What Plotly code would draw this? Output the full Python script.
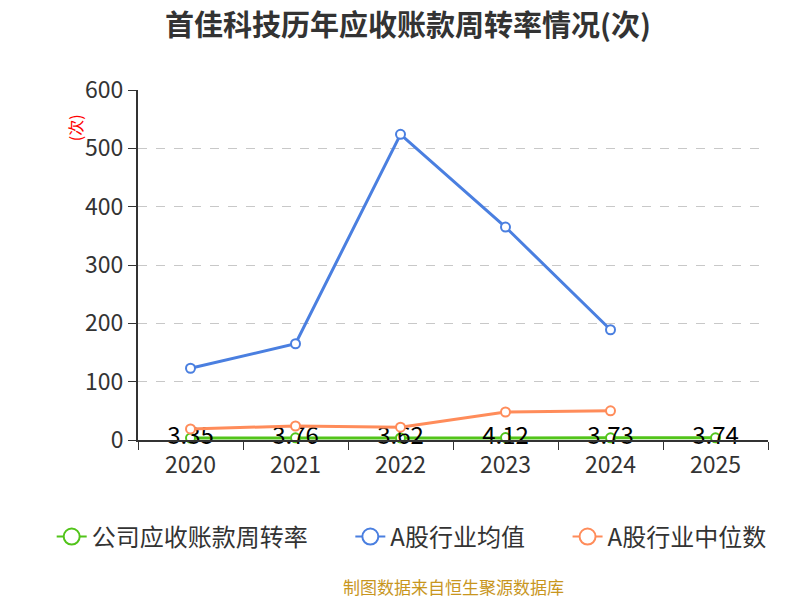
import plotly.graph_objects as go

FONT = "Noto Sans CJK SC, Noto Sans, sans-serif"

years = ["2020", "2021", "2022", "2023", "2024", "2025"]
company = [3.35, 3.76, 3.62, 4.12, 3.73, 3.74]
industry_mean = [123, 165, 524, 365, 189]
industry_median = [19, 24, 22, 48, 50]

GREEN = "#52c41a"
BLUE = "#4a7fe0"
ORANGE = "#ff8c5a"

PAD = "\u00a0" * 7  # widen the gap between legend entries

fig = go.Figure()


def add_line(name, y, color, labels=False, last=False):
    fig.add_trace(go.Scatter(
        x=years[:len(y)],
        y=y,
        name=name,
        mode="lines+markers+text" if labels else "lines+markers",
        line={"color": color, "width": 3},
        marker={"symbol": "circle", "size": 9, "color": "white",
                "line": {"color": color, "width": 2}},
        text=[f"{v:.2f}" for v in y] if labels else None,
        textposition="middle center",
        textfont={"size": 24, "color": "#000", "family": FONT},
        cliponaxis=False,
        showlegend=False,
    ))
    # legend-only entry with a bigger circle, as in the reference
    fig.add_trace(go.Scatter(
        x=[None], y=[None], name=name if last else name + PAD,
        mode="lines+markers",
        line={"color": color, "width": 2},
        marker={"symbol": "circle", "size": 16, "color": "white",
                "line": {"color": color, "width": 2}},
    ))


add_line("公司应收账款周转率", company, GREEN, labels=True)
add_line("A股行业均值", industry_mean, BLUE)
add_line("A股行业中位数", industry_median, ORANGE, last=True)

fig.update_layout(
    width=800,
    height=600,
    paper_bgcolor="white",
    plot_bgcolor="white",
    font={"family": FONT, "size": 22, "color": "#333"},
    margin={"l": 130, "r": 40, "t": 82, "b": 168, "autoexpand": False},
    title={"text": "<b>首佳科技历年应收账款周转率情况(次)</b>",
           "x": 0.5, "xanchor": "center", "y": 0.97, "yanchor": "middle",
           "font": {"size": 29, "color": "#333", "family": FONT}},
    showlegend=True,
    legend={"orientation": "h", "x": -0.137, "xanchor": "left",
            "y": -0.277, "yanchor": "middle",
            "font": {"size": 24, "color": "#333"}},
    xaxis={"type": "category", "range": [-0.5, 5.5],
           "showline": True, "linecolor": "#333", "linewidth": 2,
           "ticks": "outside", "ticklen": 8, "tickcolor": "#333",
           "tickson": "boundaries", "showgrid": False,
           "ticklabelstandoff": 3,
           "tickfont": {"size": 23, "color": "#333"}},
    yaxis={"range": [0, 600], "dtick": 100,
           "showline": True, "linecolor": "#333", "linewidth": 2,
           "ticks": "outside", "ticklen": 8, "tickcolor": "#333",
           "showgrid": True, "gridcolor": "#c8c8c8", "griddash": "dash",
           "zeroline": False,
           "tickfont": {"size": 23, "color": "#333"}},
    annotations=[
        {"text": "(次)", "xref": "paper", "yref": "paper",
         "x": -0.1, "y": 0.891, "xanchor": "center", "yanchor": "middle",
         "showarrow": False, "textangle": -90,
         "font": {"size": 16, "color": "red"}},
        {"text": "制图数据来自恒生聚源数据库", "xref": "paper", "yref": "paper",
         "x": 0.5, "y": -0.418, "xanchor": "center", "yanchor": "middle",
         "showarrow": False,
         "font": {"size": 17, "color": "#c8961e"}},
    ],
)

fig.write_html("out.html")
